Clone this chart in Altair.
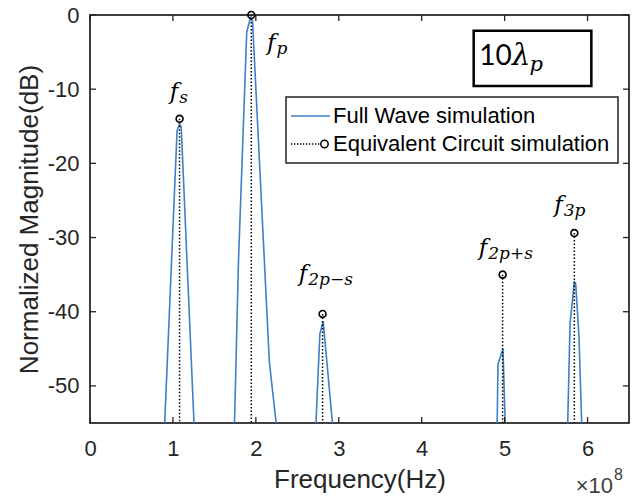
import altair as alt
import pandas as pd

# ---------------- data (frequency in units of 1e8 Hz, magnitude in dB) ----------------
SERIES = ["Full Wave simulation", "Equivalent Circuit simulation"]

FW_FREQ = [0.50, 0.863, 1.05, 1.08, 1.10, 1.293, 1.50,
           1.721, 1.79, 1.89, 1.935, 1.96, 2.163, 2.345, 2.50,
           2.686, 2.772, 2.812, 3.005, 4.00,
           4.898, 4.92, 4.98, 5.034, 5.40,
           5.74, 5.789, 5.841, 5.857, 5.897, 5.957, 6.50]
FW_DB = [-100, -65, -15.6, -14.7, -15.1, -65, -100,
         -65, -33.4, -2.3, -0.4, -0.8, -46.8, -65, -100,
         -65, -43.0, -41.3, -65, -100,
         -65, -47.1, -45.0, -65, -100,
         -65, -41.6, -36.0, -36.2, -43.4, -65, -100]

EC_FREQ = [1.08, 1.945, 2.805, 4.976, 5.841]
EC_DB = [-14.0, 0.0, -40.3, -35.0, -29.4]

LABEL_SUB = ["s", "p", "2p\u2212s", "2p+s", "3p"]
LABEL_X = [1.063, 2.236, 2.62, 4.79, 5.70]
LABEL_Y = [-11.3, -4.7, -35.8, -32.3, -26.6]

BOX_X = [4.627, 6.046]
BOX_Y = [-2.12, -9.57]
BOX_TEXT = ["10", "\u03bb", "p"]
BOX_TEXT_X = [4.695, 5.09, 5.30]
BOX_TEXT_Y = [-6.74, -6.74, -7.6]

X_TICKS = [0, 1, 2, 3, 4, 5, 6]
Y_TICKS = [0, -10, -20, -30, -40, -50]
X_MIN, X_MAX = 0, 6.5
Y_MIN, Y_MAX = -55, 0
EXP_BASE = ["\u00d710"]
EXP_POW = ["8"]

# ---------------- style ----------------
BLUE = "#3f7fc3"
TXT = "#262626"
SANS = "Liberation Sans"
SERIF = "DejaVu Serif"
W, H = 539, 408
TICK = 6

XS = alt.Scale(domain=[X_MIN, X_MAX], nice=False, zero=False)
YS = alt.Scale(domain=[Y_MIN, Y_MAX], nice=False, zero=False)

fw = pd.DataFrame({"f": FW_FREQ, "db": FW_DB})
ec = pd.DataFrame({"f": EC_FREQ, "db": EC_DB})
ec["base"] = Y_MIN
lab = pd.DataFrame({"x": LABEL_X, "y": LABEL_Y, "sub": LABEL_SUB})
box = pd.DataFrame({"x": [BOX_X[0]], "x2": [BOX_X[1]], "y": [BOX_Y[0]], "y2": [BOX_Y[1]]})
boxt = pd.DataFrame({"x": BOX_TEXT_X, "y": BOX_TEXT_Y, "t": BOX_TEXT})
leg = pd.DataFrame({"series": SERIES})
xt = pd.DataFrame({"v": X_TICKS})
yt = pd.DataFrame({"v": Y_TICKS})

# main line with labelled axes
line = alt.Chart(fw).mark_line(color=BLUE, strokeWidth=1.6, clip=True).encode(
    x=alt.X("f:Q", scale=XS, axis=alt.Axis(
        values=X_TICKS, orient="bottom", tickSize=0, ticks=False, domain=False, grid=False,
        labelFont=SANS, labelFontSize=22, labelColor=TXT, labelPadding=15,
        labelFlush=False, labelOverlap=False,
        title="Frequency(Hz)", titleFont=SANS, titleFontSize=26,
        titleFontWeight="normal", titleColor=TXT, titlePadding=7)),
    y=alt.Y("db:Q", scale=YS, axis=alt.Axis(
        values=Y_TICKS, orient="left", tickSize=0, ticks=False, domain=False, grid=False,
        labelFont=SANS, labelFontSize=22, labelColor=TXT, labelPadding=11,
        labelFlush=False, labelOverlap=False, labelExpr="'' + datum.value",
        title="Normalized Magnitude(dB)", titleFont=SANS, titleFontSize=26,
        titleFontWeight="normal", titleColor=TXT, titlePadding=5)),
)

# inward ticks on all four sides (MATLAB box style), positioned by the scales
tick_style = dict(color="#222", strokeWidth=1.3)
t_bottom = alt.Chart(xt).mark_rule(**tick_style).encode(
    x=alt.X("v:Q", scale=XS, axis=None), y=alt.value(H), y2=alt.value(H - TICK))
t_top = alt.Chart(xt).mark_rule(**tick_style).encode(
    x=alt.X("v:Q", scale=XS, axis=None), y=alt.value(0), y2=alt.value(TICK))
t_left = alt.Chart(yt).mark_rule(**tick_style).encode(
    y=alt.Y("v:Q", scale=YS, axis=None), x=alt.value(0), x2=alt.value(TICK))
t_right = alt.Chart(yt).mark_rule(**tick_style).encode(
    y=alt.Y("v:Q", scale=YS, axis=None), x=alt.value(W), x2=alt.value(W - TICK))

stems = alt.Chart(ec).mark_rule(color="black", strokeWidth=1.5, strokeDash=[1.5, 2]).encode(
    x=alt.X("f:Q", scale=XS, axis=None),
    y=alt.Y("db:Q", scale=YS, axis=None),
    y2="base:Q",
)

pts = alt.Chart(ec).mark_point(shape="circle", filled=False, color="black",
                               strokeWidth=1.6, size=48, opacity=1).encode(
    x=alt.X("f:Q", scale=XS, axis=None),
    y=alt.Y("db:Q", scale=YS, axis=None),
)

f_main = alt.Chart(lab).mark_text(text="f", font=SERIF, fontStyle="italic", fontSize=23,
                                  align="right", baseline="alphabetic", color="black").encode(
    x=alt.X("x:Q", scale=XS, axis=None), y=alt.Y("y:Q", scale=YS, axis=None))
f_sub = alt.Chart(lab).mark_text(font=SERIF, fontStyle="italic", fontSize=17,
                                 align="left", baseline="alphabetic", dx=1, dy=4,
                                 color="black").encode(
    x=alt.X("x:Q", scale=XS, axis=None), y=alt.Y("y:Q", scale=YS, axis=None),
    text="sub:N")

box_rect = alt.Chart(box).mark_rect(fill="white", stroke="black", strokeWidth=2.5).encode(
    x=alt.X("x:Q", scale=XS, axis=None), x2="x2:Q",
    y=alt.Y("y:Q", scale=YS, axis=None), y2="y2:Q")

box_main = alt.Chart(boxt).transform_filter("datum.t == '10'").mark_text(
    font="Lato", fontSize=28, align="left", baseline="alphabetic", color="black").encode(
    x=alt.X("x:Q", scale=XS, axis=None), y=alt.Y("y:Q", scale=YS, axis=None), text="t:N")
box_lam = alt.Chart(boxt).transform_filter("datum.t == '\u03bb'").mark_text(
    font=SERIF, fontStyle="italic", fontSize=29, align="left", baseline="alphabetic",
    color="black").encode(
    x=alt.X("x:Q", scale=XS, axis=None), y=alt.Y("y:Q", scale=YS, axis=None), text="t:N")
box_sub = alt.Chart(boxt).transform_filter("datum.t == 'p'").mark_text(
    font=SERIF, fontStyle="italic", fontSize=21, align="left", baseline="alphabetic",
    color="black").encode(
    x=alt.X("x:Q", scale=XS, axis=None), y=alt.Y("y:Q", scale=YS, axis=None), text="t:N")

exp_base = alt.Chart(pd.DataFrame({"t": EXP_BASE})).mark_text(
    font=SANS, fontSize=22, align="right", baseline="alphabetic", color="#404040").encode(
    x=alt.value(W - 16), y=alt.value(H + 70), text="t:N")
exp_pow = alt.Chart(pd.DataFrame({"t": EXP_POW})).mark_text(
    font=SANS, fontSize=16, align="left", baseline="alphabetic", color="#404040").encode(
    x=alt.value(W - 15), y=alt.value(H + 57), text="t:N")

# legend: custom symbols (solid line / dotted line with circle); unit = 10 px
PATH_LINE = "M-1.4,0L2.5,0"
dots = "".join(f"M{(-1.4 + 0.3 * i):.2f},0h0.13" for i in range(10))
PATH_DOT = dots + "M1.58,0A0.37,0.37 0 1 0 2.32,0A0.37,0.37 0 1 0 1.58,0"

LEG = dict(title=None, orient="none", legendX=196, legendY=82, symbolSize=400,
           symbolStrokeWidth=1.5, labelFont=SANS, labelFontSize=22, labelColor="black",
           labelOffset=17, symbolOffset=0, padding=8, rowPadding=6, labelLimit=500)

legend_layer = alt.Chart(leg).mark_point(filled=False, clip=True, strokeWidth=1.5, opacity=1).encode(
    x=alt.value(-200), y=alt.value(-200),
    shape=alt.Shape("series:N", scale=alt.Scale(domain=SERIES, range=[PATH_LINE, PATH_DOT]),
                    legend=alt.Legend(**LEG)),
    color=alt.Color("series:N", scale=alt.Scale(domain=SERIES, range=[BLUE, "black"]),
                    legend=alt.Legend(**LEG)),
)

chart = alt.layer(
    line, t_bottom, t_top, t_left, t_right, stems, pts, f_main, f_sub,
    box_rect, box_main, box_lam, box_sub, exp_base, exp_pow, legend_layer
).resolve_axis(x="independent", y="independent").properties(
    width=W, height=H,
    padding={"left": 90, "top": 15, "right": 4, "bottom": 79},
    autosize=alt.AutoSizeParams(type="none"),
    background="white",
).configure_view(stroke="black", strokeWidth=1.5).configure_legend(
    strokeColor="#222", strokeWidth=1.5, fillColor="white", cornerRadius=0
)

chart.save("out.html", embed_options={"renderer": "svg", "actions": False})
